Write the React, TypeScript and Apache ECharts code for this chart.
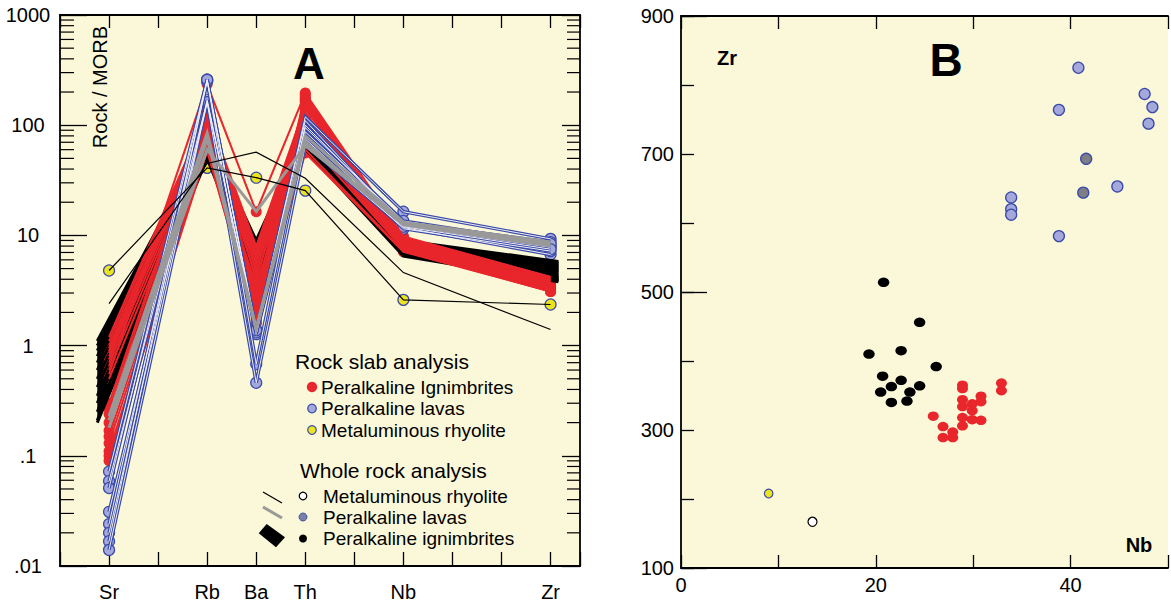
import React, { useEffect, useRef } from "react";
import * as echarts from "echarts";

// ---------- Panel A : Rock / MORB spider diagram ----------
const ELEMENTS = ["Sr", "Rb", "Ba", "Th", "Nb", "Zr"];
const ELEMENT_POS = [0, 2, 3, 4, 6, 9];
const BAND_POS = [-0.24, 2, 3, 4, 6, 9.16];

const A_Y_TICK_VALUES = [0.01, 0.1, 1, 10, 100, 1000];
const A_Y_TICK_LABELS = [".01", ".1", "1", "10", "100", "1000"];

// Rock slab analysis – peralkaline ignimbrites [Sr, Rb, Ba, Th, Nb, Zr]
const slabIgnimbrites = [
  [1.2, 130, 8.0, 150, 9.6, 4.2],
  [1.1, 120, 7.5, 140, 9.4, 4.1],
  [1.0, 110, 7.0, 130, 9.2, 4.0],
  [0.95, 105, 6.5, 120, 9.0, 3.9],
  [0.9, 100, 6.0, 110, 8.8, 3.9],
  [0.85, 95, 5.5, 105, 8.6, 3.8],
  [0.8, 90, 5.0, 100, 8.4, 3.7],
  [0.75, 140, 4.6, 160, 8.2, 3.6],
  [0.7, 85, 4.2, 95, 8.0, 3.5],
  [0.65, 150, 3.8, 170, 7.8, 3.4],
  [0.6, 80, 3.5, 90, 7.6, 3.3],
  [0.55, 235, 16.4, 196, 9.8, 4.2],
  [0.5, 75, 3.2, 85, 7.4, 3.2],
  [0.3, 125, 2.9, 180, 9.0, 3.7],
  [0.27, 115, 2.6, 190, 8.9, 3.6],
  [0.24, 100, 2.4, 175, 8.7, 3.5],
  [0.2, 90, 2.2, 165, 8.5, 3.4],
  [0.17, 145, 2.0, 150, 8.3, 3.3],
  [0.15, 80, 1.9, 120, 8.1, 3.3],
  [0.13, 70, 1.8, 100, 7.9, 3.2],
  [0.11, 65, 1.7, 75, 7.5, 3.1],
  [0.1, 60, 1.6, 60, 7.2, 3.1],
  [0.09, 58, 1.6, 56, 7.1, 3.1],
];

// Rock slab analysis – peralkaline lavas
const slabLavas = [
  [0.072, 260, 1.35, 119, 16.4, 9.3],
  [0.059, 165, 1.3, 87, 13, 8.7],
  [0.051, 255, 0.68, 100, 12.5, 8.0],
  [0.031, 160, 0.46, 66, 11.8, 6.7],
  [0.024, 250, 1.4, 110, 12.2, 7.8],
  [0.02, 170, 1.27, 75, 11.5, 7.2],
  [0.0168, 258, 1.32, 95, 13.5, 8.4],
  [0.014, 162, 1.38, 80, 12.0, 7.5],
];

// Rock slab analysis – metaluminous rhyolite
const slabRhyolite = [[4.8, 41, 33.4, 25.5, 2.6, 2.36]];

// Whole rock analysis – peralkaline ignimbrites (thick black band)
const wholeIgnimbrites = [
  [1.1, 80, 9, 85, 9.0, 5.8],
  [1.0, 75, 8.5, 82, 8.8, 5.6],
  [0.9, 72, 8, 80, 8.6, 5.4],
  [0.8, 70, 7.5, 78, 8.4, 5.2],
  [0.7, 68, 7, 76, 8.2, 5.0],
  [0.6, 66, 6.5, 74, 8.0, 4.8],
  [0.5, 64, 6, 72, 7.8, 4.6],
  [0.42, 62, 5.5, 70, 7.6, 4.4],
  [0.35, 60, 5, 68, 7.4, 4.2],
  [0.3, 58, 4.6, 66, 7.2, 4.1],
  [0.25, 55, 4.2, 64, 7.0, 4.0],
  [0.21, 52, 4, 62, 6.7, 3.9],
  [0.2, 50, 3.8, 60, 6.5, 3.8],
];

// Whole rock analysis – peralkaline lavas (grey)
const wholeLavas = [
  [0.21, 60, 16.5, 65, 12.8, 8.4],
  [0.18, 75, 1.4, 70, 12.5, 8.0],
  [0.23, 85, 1.45, 80, 13.2, 8.7],
];

// Whole rock analysis – metaluminous rhyolite (thin black)
const wholeRhyolite = [[2.4, 45, 57, 33, 4.6, 1.4]];

// ---------- Panel B : Zr vs Nb ----------
const B_X_LABELS = [0, 20, 40];
const B_Y_LABELS = [100, 300, 500, 700, 900];

const bSlabLavas = [
  [40.8, 825], [38.8, 764], [47.6, 787], [48.4, 768], [48.0, 744],
  [33.9, 637], [33.9, 620], [33.9, 612], [38.8, 581], [44.8, 653],
];
const bWholeLavas = [[41.6, 693], [41.3, 644]];
const bWholeIgnimbrites = [
  [20.8, 514], [19.3, 410], [22.6, 415], [24.5, 456], [26.2, 392],
  [20.7, 378], [22.6, 372], [21.6, 363], [24.5, 364], [20.5, 355],
  [23.5, 355], [21.6, 340], [23.2, 342],
];
const bSlabIgnimbrites = [
  [25.9, 320], [26.9, 305], [26.9, 289], [27.9, 297], [27.9, 289],
  [28.9, 365], [28.9, 360], [28.9, 344], [28.9, 334], [28.9, 318],
  [28.9, 306], [29.9, 338], [29.9, 328], [29.9, 315], [30.8, 349],
  [30.8, 341], [30.8, 314], [32.9, 368], [32.9, 357],
];
const bSlabRhyolite = [[9.0, 208]];
const bWholeRhyolite = [[13.5, 167]];

// ---------- styling ----------
const FONT = "Arial, 'Liberation Sans', Helvetica, sans-serif";
const BG = "#faf8d8";
const RED = "#e8262b";
const BLUE_LINE = "#3a4aa8";
const BLUE_FILL = "#a4a8dc";
const YELLOW = "#ece41f";
const GREY = "#999999";

const A_MINOR: number[] = [];
[0.01, 0.1, 1, 10, 100].forEach((d) => {
  for (let k = 2; k <= 9; k++) A_MINOR.push(+(d * k).toPrecision(3));
});

const toPts = (row: number[], pos: number[]) => pos.map((x, i) => [x, row[i]]);

const lineSer = (row: number[], pos: number[], color: string, width: number) => ({
  type: "line",
  xAxisIndex: 0,
  yAxisIndex: 0,
  data: toPts(row, pos),
  symbol: "none",
  silent: true,
  lineStyle: { color, width, cap: "butt", join: "miter" },
});

const scatterA = (rows: number[][], size: number, fill: string, stroke: string, bw: number) => ({
  type: "scatter",
  xAxisIndex: 0,
  yAxisIndex: 0,
  data: rows.flatMap((r) => toPts(r, ELEMENT_POS)),
  symbol: "circle",
  symbolSize: size,
  silent: true,
  itemStyle: { color: fill, borderColor: stroke, borderWidth: bw, opacity: 1 },
});

const scatterB = (pts: number[][], size: any, fill: string, stroke: string, bw: number) => ({
  type: "scatter",
  xAxisIndex: 2,
  yAxisIndex: 2,
  data: pts,
  symbol: "circle",
  symbolSize: size,
  silent: true,
  itemStyle: { color: fill, borderColor: stroke, borderWidth: bw, opacity: 1 },
});

const axisLine = { show: true, onZero: false, lineStyle: { color: "#000", width: 1.8 } };
const tick = (len: number) => ({ show: true, inside: true, length: len, lineStyle: { color: "#000", width: 1.3 } });
const labelStyle = { color: "#000", fontSize: 20, fontFamily: FONT };

function buildOption(): any {
  const series: any[] = [];
  // solid envelope of the whole-rock ignimbrite band
  series.push({
    type: "custom",
    xAxisIndex: 0,
    yAxisIndex: 0,
    silent: true,
    data: [[0, 1]],
    renderItem: (_p: any, api: any) => {
      const top = BAND_POS.map((x, i) => api.coord([x, Math.max(...wholeIgnimbrites.map((r) => r[i]))]));
      const bot = BAND_POS.map((x, i) => api.coord([x, Math.min(...wholeIgnimbrites.map((r) => r[i]))]));
      return { type: "polygon", shape: { points: [...top, ...bot.reverse()] }, style: { fill: "#000" } };
    },
  });
  wholeIgnimbrites.forEach((r) => series.push(lineSer(r, BAND_POS, "#000", 3)));
  slabIgnimbrites.forEach((r) => series.push(lineSer(r, ELEMENT_POS, RED, 2)));
  series.push(scatterA(slabIgnimbrites, 11, RED, RED, 0));
  slabLavas.forEach((r) => series.push(lineSer(r, ELEMENT_POS, BLUE_LINE, 3.4)));
  slabLavas.forEach((r) => series.push(lineSer(r, ELEMENT_POS, "#eeedf2", 1)));
  series.push(scatterA(slabLavas, 11, BLUE_FILL, BLUE_LINE, 1.2));
  wholeLavas.forEach((r) => series.push(lineSer(r, ELEMENT_POS, GREY, 3)));
  wholeRhyolite.forEach((r) => series.push(lineSer(r, ELEMENT_POS, "#000", 1.2)));
  slabRhyolite.forEach((r) => series.push(lineSer(r, ELEMENT_POS, "#000", 1.2)));
  series.push(scatterA(slabRhyolite, 11, YELLOW, BLUE_LINE, 1.2));

  series.push({
    type: "custom",
    xAxisIndex: 0,
    yAxisIndex: 0,
    silent: true,
    data: A_MINOR.map((v) => [-1, v]),
    renderItem: (_p: any, api: any) => {
      const v = api.value(1);
      const l = api.coord([-1, v]);
      const r = api.coord([9.6, v]);
      return {
        type: "group",
        children: [
          { type: "line", shape: { x1: l[0], y1: l[1], x2: l[0] + 14, y2: l[1] }, style: { stroke: "#000", lineWidth: 1.2 } },
          { type: "line", shape: { x1: r[0] - 13, y1: r[1], x2: r[0], y2: r[1] }, style: { stroke: "#000", lineWidth: 1.2 } },
        ],
      };
    },
  });

  series.push(scatterB(bSlabLavas, 11, BLUE_FILL, BLUE_LINE, 1.3));
  series.push(scatterB(bWholeLavas, 11, "#7e7f86", BLUE_LINE, 1.3));
  series.push(scatterB(bWholeIgnimbrites, [11.5, 9.5], "#000", "#000", 0));
  series.push(scatterB(bSlabIgnimbrites, [11, 9.5], RED, RED, 0));
  series.push(scatterB(bSlabRhyolite, 8.5, YELLOW, BLUE_LINE, 1.2));
  series.push(scatterB(bWholeRhyolite, 9, "#fff", "#000", 1.2));

  const elemLabel = (v: number) => {
    const i = ELEMENT_POS.findIndex((p) => Math.abs(p - v) < 1e-6);
    return i >= 0 ? ELEMENTS[i] : "";
  };
  const aYLabel = (v: number) => {
    const i = A_Y_TICK_VALUES.findIndex((p) => Math.abs(Math.log10(p) - Math.log10(v)) < 1e-6);
    return i >= 0 ? A_Y_TICK_LABELS[i] : "";
  };

  const txt = (text: string, x: number, y: number, font: string, align = "left", rotation = 0, lh?: number) => ({
    type: "text",
    x,
    y,
    rotation,
    silent: true,
    style: {
      text,
      font,
      fill: "#000",
      textAlign: align,
      align,
      textVerticalAlign: "middle",
      verticalAlign: "middle",
      ...(lh ? { lineHeight: lh } : {}),
    },
  });
  const circ = (cx: number, cy: number, r: number, fill: string, stroke: string, lw: number) => ({
    type: "circle",
    silent: true,
    shape: { cx, cy, r },
    style: { fill, stroke, lineWidth: lw },
  });
  const item = `19px ${FONT}`;

  const graphics: any[] = [
    txt("Rock / MORB", 100, 87, `20px ${FONT}`, "center", Math.PI / 2),
    txt("A", 309, 63, `bold 44px ${FONT}`, "center"),
    txt("B", 946, 60, `bold 46px ${FONT}`, "center"),
    txt("Zr", 727, 58, `bold 20px ${FONT}`, "center"),
    txt("Nb", 1139, 545, `bold 20px ${FONT}`, "center"),
    // legend
    txt("Rock slab analysis", 295, 361, `21px ${FONT}`, "left", 0, 20),
    circ(312, 387, 5.2, RED, RED, 0),
    txt("Peralkaline Ignimbrites", 321, 387, item, "left", 0, 18),
    circ(312, 408.5, 4.3, BLUE_FILL, BLUE_LINE, 1.2),
    txt("Peralkaline lavas", 321, 408.5, item, "left", 0, 18),
    circ(312, 430, 4.3, YELLOW, BLUE_LINE, 1.2),
    txt("Metaluminous rhyolite", 321, 430, item, "left", 0, 18),
    txt("Whole rock analysis", 300, 470, `21px ${FONT}`, "left", 0, 20),
    { type: "line", silent: true, shape: { x1: 263, y1: 492, x2: 282, y2: 503 }, style: { stroke: "#000", lineWidth: 1.3 } },
    circ(303, 496, 3.8, "#fff", "#000", 1.2),
    txt("Metaluminous rhyolite", 323, 496, item, "left", 0, 18),
    { type: "line", silent: true, shape: { x1: 263, y1: 507, x2: 282, y2: 518 }, style: { stroke: GREY, lineWidth: 3 } },
    circ(303, 517, 4, "#7880a8", "#4a55a0", 1),
    txt("Peralkaline lavas", 323, 517, item, "left", 0, 18),
    {
      type: "polygon",
      silent: true,
      shape: { points: [[258.7, 533.3], [266.7, 524], [285, 537.3], [276, 547.3]] },
      style: { fill: "#000" },
    },
    circ(303, 538.5, 4, "#000", "#000", 0),
    txt("Peralkaline ignimbrites", 323, 538.5, item, "left", 0, 18),
  ];

  return {
    animation: false,
    backgroundColor: "#ffffff",
    textStyle: { fontFamily: FONT },
    grid: [
      { left: 60, top: 15, width: 520, height: 552, show: true, backgroundColor: BG, borderWidth: 0 },
      { left: 681, top: 16, width: 493.5, height: 552, show: true, backgroundColor: BG, borderWidth: 0 },
    ],
    xAxis: [
      {
        gridIndex: 0, type: "value", position: "bottom", min: -1, max: 9.6, interval: 1,
        axisLine, axisTick: tick(14), splitLine: { show: false },
        axisLabel: { ...labelStyle, margin: 16, formatter: elemLabel, showMinLabel: true, showMaxLabel: true },
      },
      {
        gridIndex: 0, type: "value", position: "top", min: -1, max: 9.6, interval: 1,
        axisLine, axisTick: tick(13), splitLine: { show: false }, axisLabel: { show: false },
      },
      {
        gridIndex: 1, type: "value", position: "bottom", min: 0, max: 50, interval: 10,
        axisLine, axisTick: tick(13), splitLine: { show: false },
        axisLabel: { ...labelStyle, margin: 7, formatter: (v: number) => (B_X_LABELS.includes(v) ? String(v) : "") },
      },
      {
        gridIndex: 1, type: "value", position: "top", min: 0, max: 50, interval: 10,
        axisLine, axisTick: tick(13), splitLine: { show: false }, axisLabel: { show: false },
      },
    ],
    yAxis: [
      {
        gridIndex: 0, type: "log", logBase: 10, min: 0.01, max: 1000, position: "left",
        axisLine, axisTick: tick(27), splitLine: { show: false }, minorTick: { show: false },
        axisLabel: { ...labelStyle, align: "center", margin: 32, padding: [8, 0, 0, 0], formatter: aYLabel },
      },
      {
        gridIndex: 0, type: "log", logBase: 10, min: 0.01, max: 1000, position: "right",
        axisLine, axisTick: tick(18), splitLine: { show: false }, axisLabel: { show: false },
      },
      {
        gridIndex: 1, type: "value", min: 100, max: 900, interval: 100, position: "left",
        axisLine, axisTick: tick(13), splitLine: { show: false },
        axisLabel: { ...labelStyle, margin: 7, formatter: (v: number) => (B_Y_LABELS.includes(v) ? String(v) : "") },
      },
      {
        gridIndex: 1, type: "value", min: 100, max: 900, interval: 400, position: "left", offset: 0,
        axisLine: { show: false }, axisTick: tick(26), splitLine: { show: false }, axisLabel: { show: false },
      },
    ],
    series,
    graphic: graphics,
  };
}

export default function App() {
  const ref = useRef<HTMLDivElement>(null);
  useEffect(() => {
    const chart = echarts.init(ref.current as HTMLDivElement, null, { renderer: "svg" });
    chart.setOption(buildOption());
    return () => chart.dispose();
  }, []);
  return (
    <div
      ref={ref}
      style={{ position: "absolute", left: 0, top: 0, width: 1171, height: 602, background: "#fff" }}
    />
  );
}
